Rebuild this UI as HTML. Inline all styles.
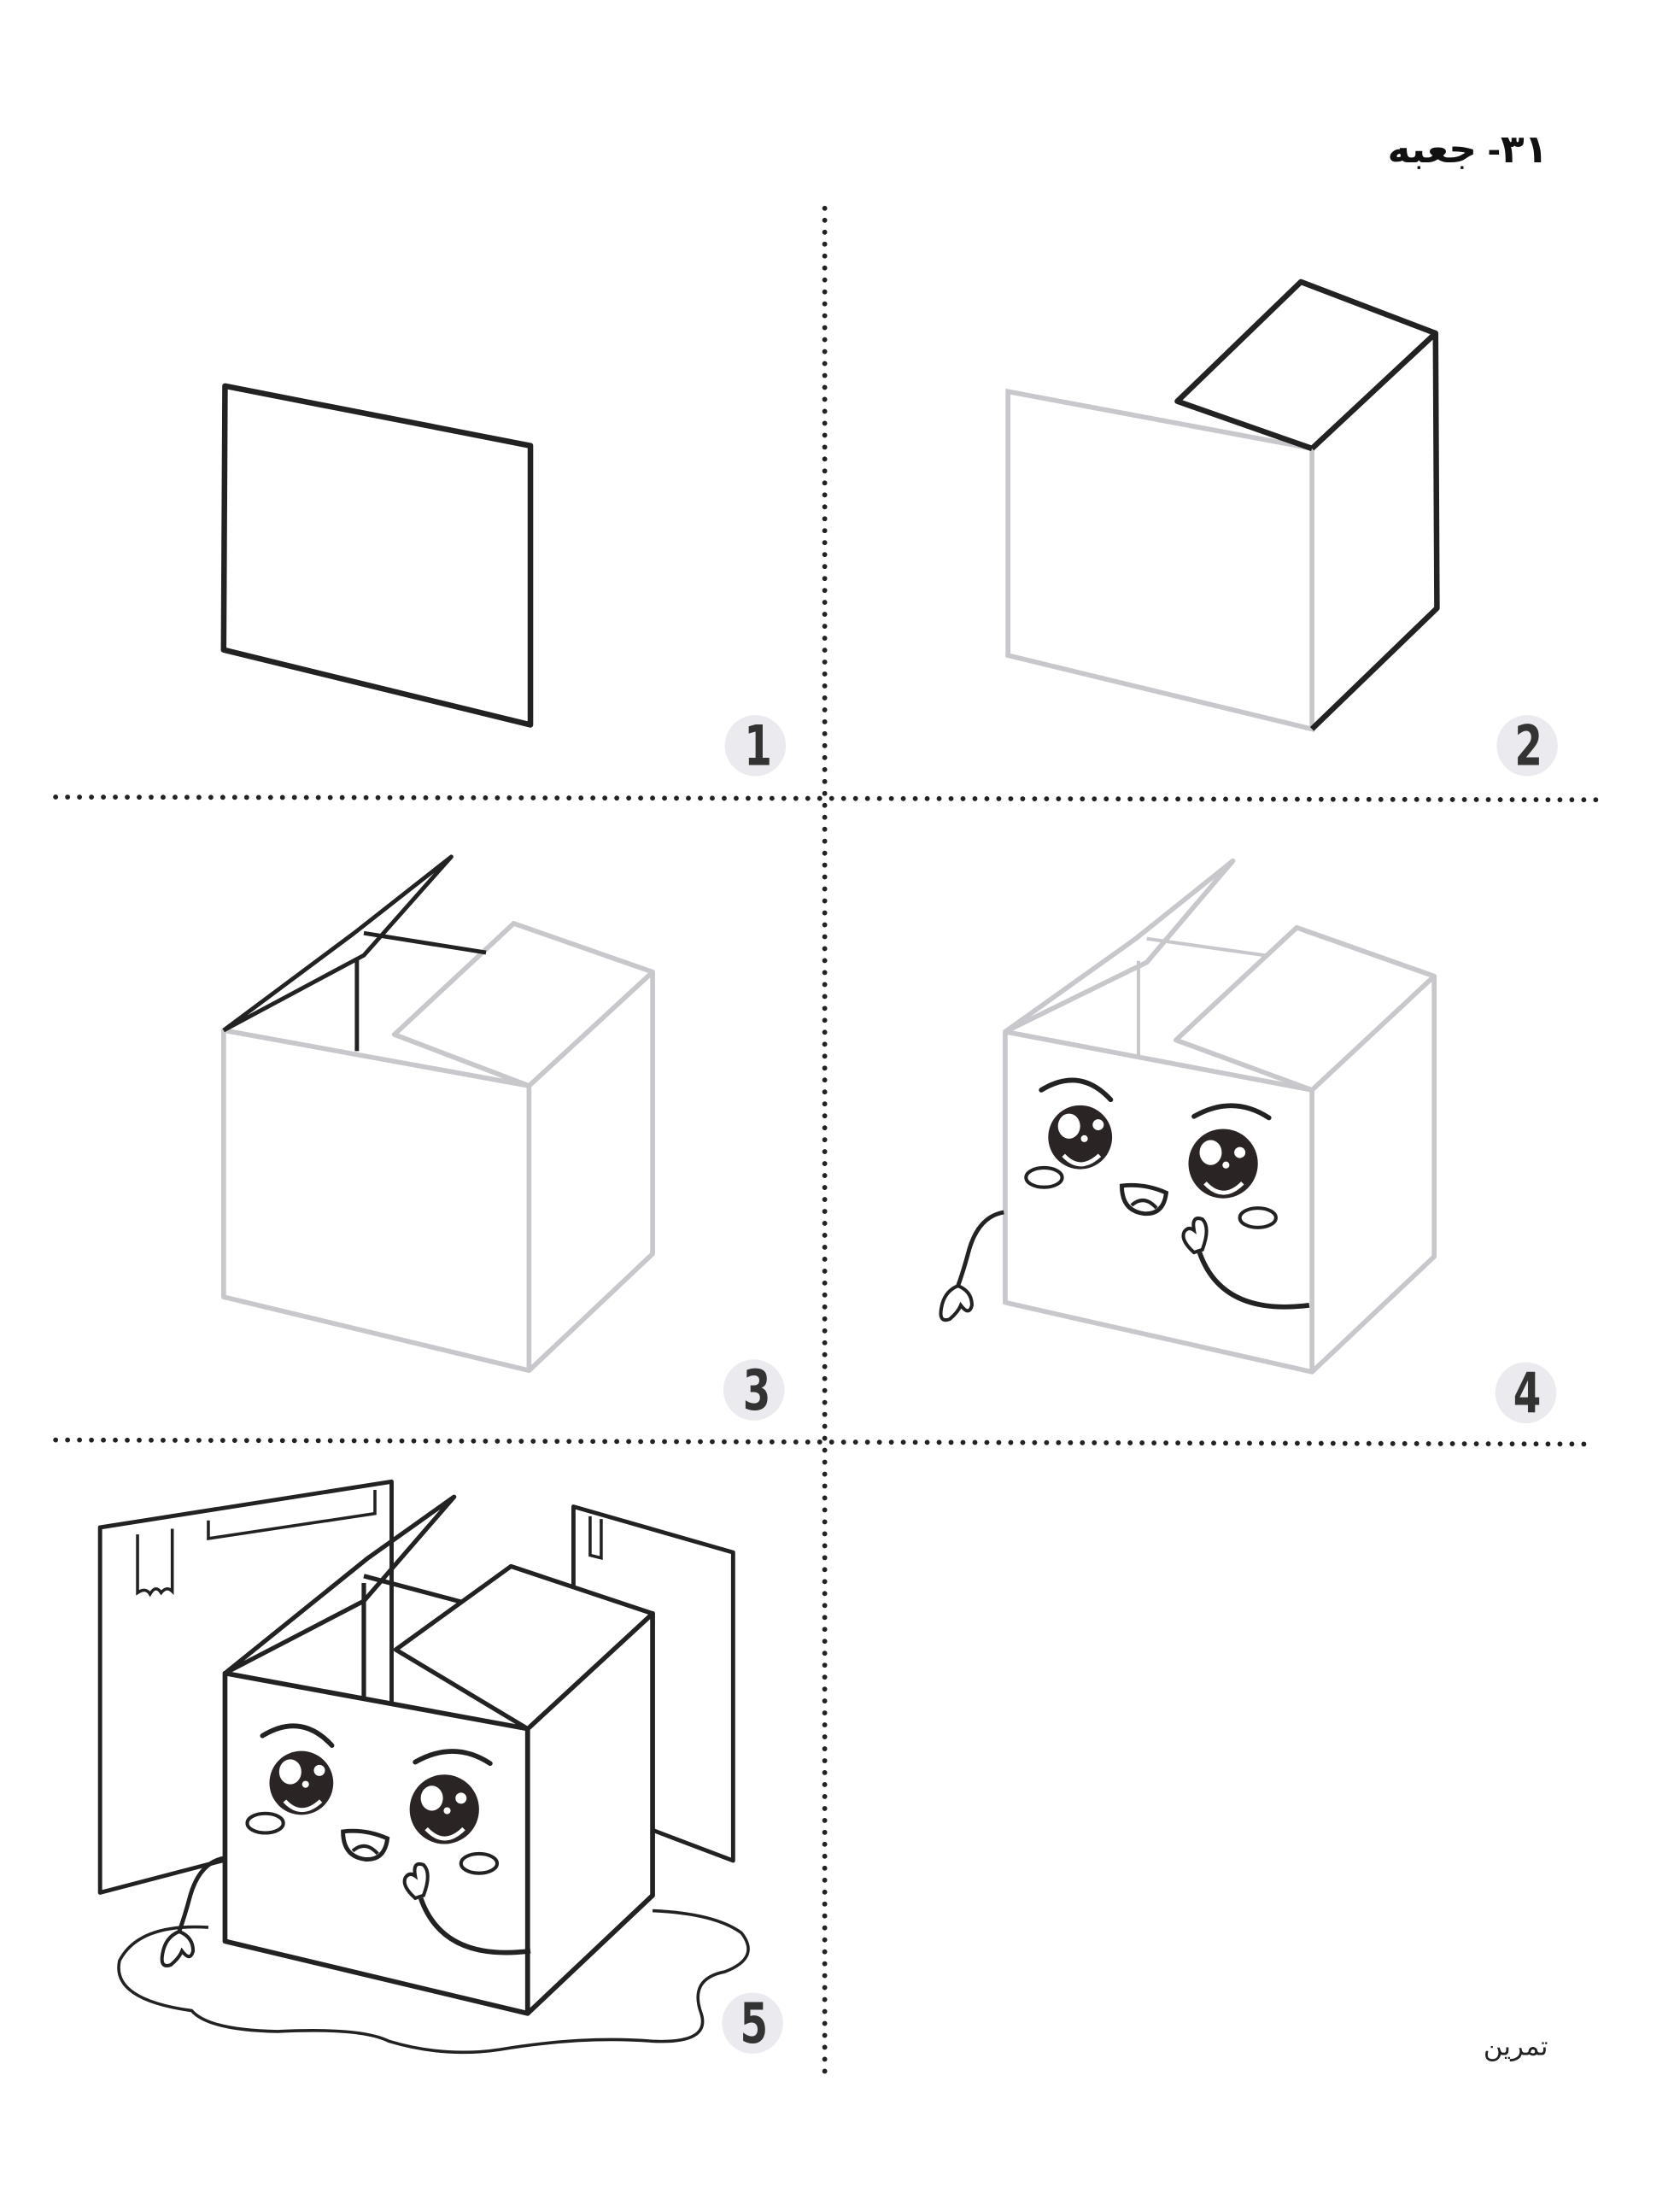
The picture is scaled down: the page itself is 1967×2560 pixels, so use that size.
<!DOCTYPE html>
<html><head><meta charset="utf-8"><style>
html,body{margin:0;padding:0;background:#fff}
svg{display:block}
</style></head><body>
<svg width="1967" height="2560" viewBox="0 0 1210 1575" xmlns="http://www.w3.org/2000/svg">
<defs>
<g id="face">
  <path d="M750 785 Q778 768 800 792" fill="none" stroke="#222" stroke-width="3.5" stroke-linecap="round"/>
  <path d="M860 804 Q888 788 914 805" fill="none" stroke="#222" stroke-width="3.5" stroke-linecap="round"/>
  <circle cx="778" cy="819" r="23" fill="#2a2424"/>
  <circle cx="881" cy="838" r="25" fill="#2a2424"/>
  <ellipse cx="770" cy="811" rx="8" ry="9" fill="#fff"/>
  <ellipse cx="872" cy="830" rx="8" ry="9" fill="#fff"/>
  <circle cx="791" cy="810" r="4" fill="#fff"/><circle cx="893" cy="830" r="4" fill="#fff"/>
  <circle cx="781" cy="820" r="2.5" fill="#fff"/><circle cx="883" cy="839" r="2.5" fill="#fff"/>
  <path d="M766 832 Q778 845 792 832" fill="none" stroke="#fff" stroke-width="3"/>
  <path d="M868 852 Q881 866 895 852" fill="none" stroke="#fff" stroke-width="3"/>
  <ellipse cx="752" cy="848" rx="13" ry="7" fill="none" stroke="#222" stroke-width="2.5"/>
  <ellipse cx="906" cy="877" rx="13" ry="7" fill="none" stroke="#222" stroke-width="2.5"/>
  <path d="M808 854 Q824 852 840 859 Q838 875 824 874 Q808 872 808 854 Z" fill="#fff" stroke="#222" stroke-width="3"/>
  <path d="M815 868 Q824 860 833 870" fill="none" stroke="#222" stroke-width="2.5"/>
  <path d="M860 902 Q850 893 853 887 Q856 883 860 886 Q858 875 866 878 Q872 884 866 900 Z" fill="#fff" stroke="#222" stroke-width="2.5"/>
  <path d="M864 902 Q880 948 943 940" fill="none" stroke="#222" stroke-width="3.5"/>
  <path d="M723 873 Q705 876 698 900 Q694 915 690 926" fill="none" stroke="#222" stroke-width="3"/>
  <path d="M690 926 Q680 930 678 942 Q676 953 684 950 Q690 945 692 940 Q698 948 700 940 Q700 930 690 926 Z" fill="#fff" stroke="#222" stroke-width="2.5"/>
</g>
</defs>
<rect width="1210" height="1575" fill="#fff"/>
<text x="1115" y="117" direction="rtl" text-anchor="start" font-family="'Liberation Sans','DejaVu Sans',sans-serif" font-weight="bold" font-size="28" fill="#111">&#x202B;۳۱- جعبه&#x202C;</text>

<!-- dotted lines -->
<line x1="594" y1="150" x2="594" y2="1495" stroke="#222" stroke-width="3.6" stroke-linecap="round" stroke-dasharray="0 8.6"/>
<line x1="40" y1="574" x2="1150" y2="576" stroke="#222" stroke-width="3.6" stroke-linecap="round" stroke-dasharray="0 8.6"/>
<line x1="40" y1="1037" x2="1148" y2="1040" stroke="#222" stroke-width="3.6" stroke-linecap="round" stroke-dasharray="0 8.6"/>

<!-- number badges -->
<g fill="#ebebef">
<circle cx="544" cy="537" r="22"/><circle cx="1100" cy="537" r="22"/><circle cx="543" cy="1001" r="22"/><circle cx="1099" cy="1003" r="22"/><circle cx="542" cy="1457" r="22"/>
</g>
<g font-family="'DejaVu Sans','Liberation Sans',sans-serif" font-size="40" font-weight="bold" fill="#333" text-anchor="middle">
<text transform="translate(546 551) scale(0.72 1)">1</text>
<text transform="translate(1101 551) scale(0.72 1)">2</text>
<text transform="translate(545 1015) scale(0.72 1)">3</text>
<text transform="translate(1100 1017) scale(0.72 1)">4</text>
<text transform="translate(543 1471) scale(0.72 1)">5</text>
</g>

<!-- panel 1 -->
<path d="M162 278 L382 321 L382 522 L161 468 Z" fill="none" stroke="#222" stroke-width="4" stroke-linejoin="round"/>

<!-- panel 2 -->
<path d="M945 323 L726 282 L726 472 L945 525 Z" fill="none" stroke="#c8c8cc" stroke-width="3.5"/>
<path d="M945 323 L848 289 L937 203 L1034 240 L945 323 M1034 240 L1035 438 L945 525" fill="none" stroke="#222" stroke-width="4" stroke-linejoin="round"/>

<!-- panel 3 -->
<g fill="none" stroke="#c8c8cc" stroke-width="3.5" stroke-linejoin="round">
<path d="M161 742 L381 782 L381 987 L161 934 Z"/>
<path d="M381 782 L470 700 L470 903 L381 987"/>
<path d="M381 782 L284 745 L370 665 L470 700"/>
</g>
<g fill="none" stroke="#222" stroke-width="3" stroke-linejoin="round">
<path d="M161 742 L255 672 L325 617 L262 688 L161 742"/>
<path d="M257 690 L257 757 M262 672 L350 686"/>
</g>

<!-- panel 4 -->
<g fill="none" stroke="#c8c8cc" stroke-width="3.5" stroke-linejoin="round">
<path d="M724 743 L945 785 L945 988 L724 938 Z"/>
<path d="M945 785 L1033 703 L1033 905 L945 988"/>
<path d="M945 785 L847 749 L934 668 L1033 703"/>
<path d="M724 743 L818 676 L888 620 L826 693 L724 743"/>
<path d="M820 692 L820 760 M826 676 L911 688" stroke-width="2.5"/>
</g>
<use href="#face"/>

<!-- panel 5 -->
<g fill="#fff" stroke="#222" stroke-width="3" stroke-linejoin="round">
<path d="M72 1100 L282 1067 L282 1300 L160 1340 L72 1363 Z"/>
<path d="M413 1085 L528 1118 L528 1340 L470 1318 L413 1300 Z"/>
</g>
<g fill="none" stroke="#222" stroke-width="2.2">
<path d="M150 1095 L150 1108 L270 1090 L270 1073"/>
<path d="M99 1105 L99 1147 Q105 1143 108 1148 Q112 1141 116 1147 Q120 1142 124 1146 L124 1101"/>
<path d="M425 1092 L425 1120 L433 1122 L433 1094"/>
<path d="M150 1388 Q100 1385 86 1412 Q80 1440 138 1448 Q150 1462 200 1463 Q260 1460 280 1470 Q320 1482 360 1476 Q420 1466 470 1470 Q512 1472 505 1450 Q496 1425 522 1420 Q548 1410 534 1392 Q515 1378 470 1376"/>
</g>
<g fill="#fff" stroke="#222" stroke-width="3.5" stroke-linejoin="round">
<path d="M162 1205 L380 1245 L380 1450 L162 1398 Z"/>
<path d="M380 1245 L470 1162 L470 1365 L380 1450 Z"/>
</g>
<g fill="none" stroke="#222" stroke-width="3.2" stroke-linejoin="round">
<path d="M262 1140 L262 1222 M262 1135 L345 1157"/>
<path d="M162 1205 L265 1122 L327 1078 L262 1153 L162 1205"/>
</g>
<path d="M380 1245 L285 1188 L368 1128 L470 1162 Z" fill="#fff" stroke="#222" stroke-width="3.2" stroke-linejoin="round"/>
<use href="#face" transform="translate(-561 465)"/>

<text x="1115" y="1480" direction="rtl" text-anchor="start" font-family="'DejaVu Sans','Liberation Sans',sans-serif" font-size="19" fill="#222">تمرین</text>
</svg>
</body></html>
